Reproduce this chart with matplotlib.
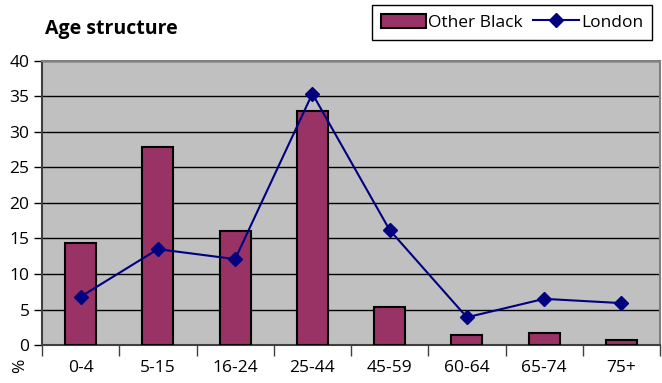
import matplotlib
matplotlib.use('Agg')
import matplotlib.pyplot as plt
import numpy as np

# age bands and shares (%)
categories = ['0-4', '5-15', '16-24', '25-44', '45-59', '60-64', '65-74', '75+']
other_black = [14.3, 27.9, 16.0, 33.0, 5.3, 1.4, 1.7, 0.7]
london = [6.8, 13.5, 12.1, 35.4, 16.2, 3.9, 6.5, 5.9]

plt.rcParams['font.family'] = ['Open Sans', 'DejaVu Sans']

fig = plt.figure(figsize=(6.62, 3.83), dpi=100)
ax = fig.add_axes([42 / 662, 1 - 345 / 383, 618 / 662, 284 / 383])
ax.set_facecolor('#C0C0C0')

x = np.arange(len(categories))
bars = ax.bar(x, other_black, width=0.4, color='#993366', edgecolor='black',
              linewidth=1.5, label='Other Black', zorder=3)
line, = ax.plot(x, london, color='#000080', marker='D', markersize=7.5, linewidth=1.5,
                label='London', zorder=4)

ax.set_xlim(-0.5, len(categories) - 0.5)
ax.set_ylim(0, 40)
ax.set_yticks(range(0, 41, 5))
ax.yaxis.grid(True, color='black', linewidth=1)
ax.set_axisbelow(True)

# boundary ticks without labels, labels centred under the bars
ax.set_xticks(np.arange(-0.5, len(categories), 1.0))
ax.set_xticklabels([])
ax.set_xticks(x, minor=True)
ax.set_xticklabels(categories, minor=True)
ax.tick_params(axis='x', which='major', direction='out', length=8, width=1, color='#404040')
ax.tick_params(axis='x', which='minor', length=0, pad=11, labelsize=12.5, colors='black')
ax.tick_params(axis='y', direction='out', length=6, width=1, labelsize=12.5, pad=3)

for s in ['left', 'bottom']:
    ax.spines[s].set_color('#404040')
    ax.spines[s].set_linewidth(1.5)
for s in ['top', 'right']:
    ax.spines[s].set_color('#808080')
    ax.spines[s].set_linewidth(1.5)

fig.text(45 / 662, 1 - 29 / 383, 'Age structure', fontsize=14, fontweight='bold',
         va='center', ha='left')
fig.text(20 / 662, 1 - 366 / 383, '%', fontsize=12.5, rotation=90,
         va='center', ha='center')

fig.legend([bars, line], ['Other Black', 'London'], loc='upper right',
           bbox_to_anchor=(652 / 662, 1 - 5 / 383), ncol=2, numpoints=1,
           frameon=True, fancybox=False, edgecolor='black', framealpha=1,
           fontsize=12.5, handlelength=2.6, handleheight=0.9, handletextpad=0.15,
           columnspacing=0.6, borderpad=0.5, borderaxespad=0)

fig.savefig('out.png', dpi=100, facecolor='white')
